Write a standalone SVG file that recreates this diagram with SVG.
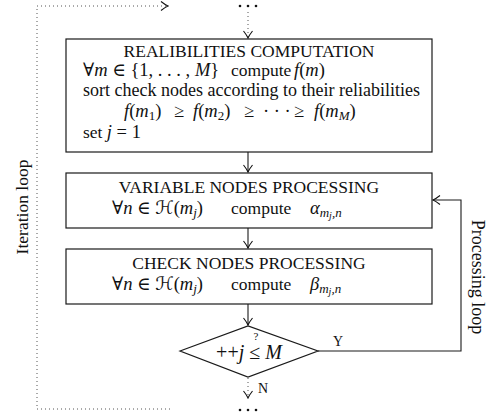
<svg xmlns="http://www.w3.org/2000/svg" width="488" height="420" viewBox="0 0 488 420">
<defs>
<style>
text{font-family:"Liberation Serif","DejaVu Serif","DejaVu Sans",serif;fill:#111;font-size:17.5px}
.m{font-size:18.5px}
.i{font-style:italic}
.sub{font-size:13px}
.box{fill:#fff;stroke:#1a1a1a;stroke-width:1.2}
.ln{fill:none;stroke:#1a1a1a;stroke-width:1.1}
.dot{fill:none;stroke:#555;stroke-width:1;stroke-dasharray:1 3}
</style>
<marker id="arr" viewBox="-8 -6 9 12" refX="0" refY="0" markerWidth="9" markerHeight="12" markerUnits="userSpaceOnUse" orient="auto">
<path d="M-7,-4.5 Q-2.5,-1 0,0 Q-2.5,1 -7,4.5" fill="none" stroke="#111" stroke-width="1.1"/>
</marker>
</defs>
<g id="connectors">
<path class="dot" d="M248,12 V38" marker-end="url(#arr)"/>
<path class="ln" d="M248,152 V172" marker-end="url(#arr)"/>
<path class="ln" d="M248,228 V248" marker-end="url(#arr)"/>
<path class="ln" d="M248,304 V325" marker-end="url(#arr)"/>
<path class="dot" d="M248,378 V398" marker-end="url(#arr)"/>
<path class="ln" d="M318,351 H461 V200 H433" marker-end="url(#arr)"/>
<path class="dot" d="M170,409 H37 V6 H168" marker-end="url(#arr)"/>
</g>
<g id="dots-top">
<circle cx="240" cy="6" r="1.3" fill="#111"/><circle cx="248" cy="6" r="1.3" fill="#111"/><circle cx="256" cy="6" r="1.3" fill="#111"/>
</g>
<g id="dots-bottom">
<circle cx="240" cy="410" r="1.3" fill="#111"/><circle cx="248" cy="410" r="1.3" fill="#111"/><circle cx="256" cy="410" r="1.3" fill="#111"/>
</g>
<g id="reliabilities">
<rect class="box" x="66" y="39" width="366" height="113"/>
<text x="249" y="57" text-anchor="middle">REALIBILITIES COMPUTATION</text>
<text class="m" x="83" y="76">∀<tspan class="i">m</tspan> ∈ {1, . . . , <tspan class="i">M</tspan>}</text>
<text x="231" y="76">compute</text>
<text class="m" x="294" y="76"><tspan class="i">f</tspan>(<tspan class="i">m</tspan>)</text>
<text x="83" y="96" style="font-size:18px">sort check nodes according to their reliabilities</text>
<text class="m" x="124" y="117"><tspan class="i">f</tspan>(<tspan class="i">m</tspan><tspan class="sub" dy="3">1</tspan><tspan dy="-3">)</tspan></text>
<text class="m" x="174" y="117">≥</text>
<text class="m" x="193" y="117"><tspan class="i">f</tspan>(<tspan class="i">m</tspan><tspan class="sub" dy="3">2</tspan><tspan dy="-3">)</tspan></text>
<text class="m" x="244" y="117">≥</text>
<text class="m" x="263" y="117">· · ·</text>
<text class="m" x="294" y="117">≥</text>
<text class="m" x="314" y="117"><tspan class="i">f</tspan>(<tspan class="i">m</tspan><tspan class="sub i" dy="3">M</tspan><tspan dy="-3">)</tspan></text>
<text x="83" y="138">set <tspan class="i m">j</tspan><tspan class="m"> = 1</tspan></text>
</g>
<g id="variable">
<rect class="box" x="66" y="173" width="366" height="55"/>
<text x="249" y="193" text-anchor="middle">VARIABLE NODES PROCESSING</text>
<text class="m" x="112" y="214">∀<tspan class="i">n</tspan> ∈ ℋ(<tspan class="i">m</tspan><tspan class="sub i" dy="3">j</tspan><tspan dy="-3">)</tspan></text>
<text x="231" y="214">compute</text>
<text class="m" x="310" y="214"><tspan class="i">α</tspan><tspan class="sub i" dy="3">m</tspan><tspan class="i" font-size="10" dy="2">j</tspan><tspan class="sub i" dy="-2">,n</tspan></text>
</g>
<g id="check">
<rect class="box" x="66" y="249" width="366" height="55"/>
<text x="249" y="269" text-anchor="middle">CHECK NODES PROCESSING</text>
<text class="m" x="112" y="290">∀<tspan class="i">n</tspan> ∈ ℋ(<tspan class="i">m</tspan><tspan class="sub i" dy="3">j</tspan><tspan dy="-3">)</tspan></text>
<text x="231" y="290">compute</text>
<text class="m" x="310" y="290"><tspan class="i">β</tspan><tspan class="sub i" dy="3">m</tspan><tspan class="i" font-size="10" dy="2">j</tspan><tspan class="sub i" dy="-2">,n</tspan></text>
</g>
<g id="decision">
<polygon class="box" points="180,351 248,326 318,351 248,377"/>
<text x="249" y="359" text-anchor="middle" style="font-size:20px">++<tspan class="i">j</tspan> ≤ <tspan class="i">M</tspan></text>
<text x="256" y="340" text-anchor="middle" style="font-size:11px">?</text>
<text x="333" y="346" style="font-size:14px">Y</text>
<text x="258" y="393" style="font-size:14px">N</text>
</g>
<g id="labels">
<text transform="translate(28,207) rotate(-90)" text-anchor="middle">Iteration loop</text>
<text transform="translate(472,277) rotate(90)" text-anchor="middle" style="font-size:18px">Processing loop</text>
</g>
</svg>
